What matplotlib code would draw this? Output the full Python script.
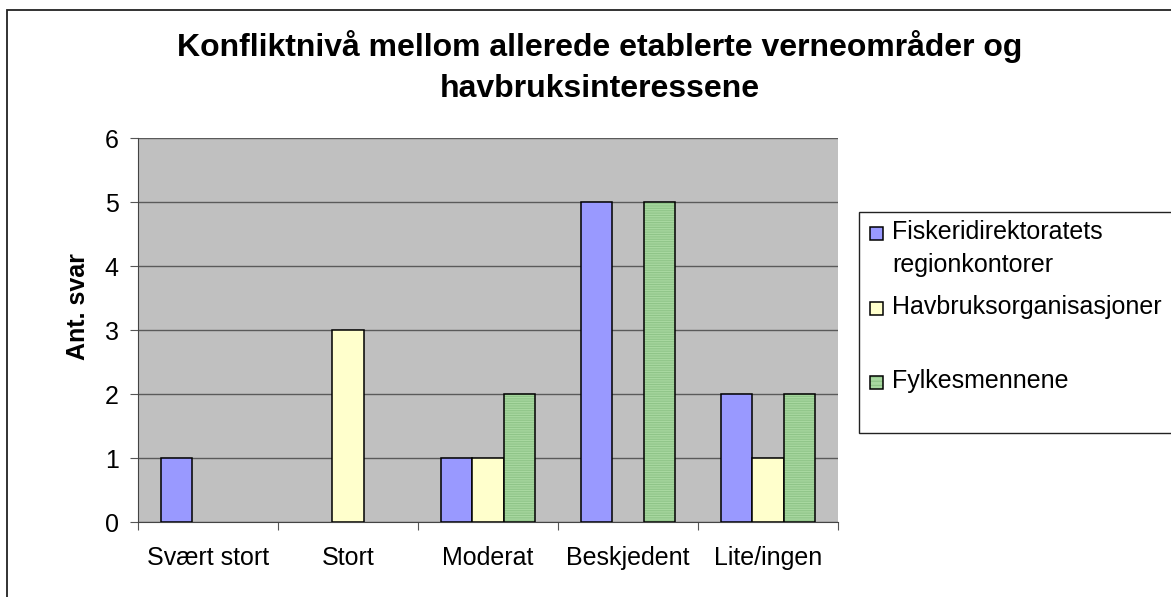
import matplotlib
matplotlib.use("Agg")
import matplotlib.pyplot as plt
import numpy as np
from matplotlib.patches import Rectangle

plt.rcParams['font.family'] = ['Liberation Sans', 'DejaVu Sans']
plt.rcParams['hatch.linewidth'] = 0.8

categories = ["Svært stort", "Stort", "Moderat", "Beskjedent", "Lite/ingen"]
series_names = ["Fiskeridirektoratets\nregionkontorer", "Havbruksorganisasjoner", "Fylkesmennene"]
fisk = [1, 0, 1, 5, 2]
havbruk = [0, 3, 1, 0, 1]
fylke = [0, 0, 2, 5, 2]
yticks = [0, 1, 2, 3, 4, 5, 6]
title = "Konfliktnivå mellom allerede etablerte verneområder og\nhavbruksinteressene"
ylabel = "Ant. svar"

colors = ["#9999ff", "#ffffcc", "#a8d8a0"]
hatch_col = "#8fc488"

W, H = 1171, 597
fig = plt.figure(figsize=(W / 100, H / 100), dpi=100)
fig.patch.set_facecolor("white")

def fx(px):
    return px / W

def fy(py):
    return 1 - py / H

# outer chart border (runs off the right and bottom edges)
fig.add_artist(Rectangle((fx(7), -0.2), 1.5, fy(10) + 0.2, transform=fig.transFigure,
                         fill=False, edgecolor="#222222", linewidth=1.3))

ax = fig.add_axes([fx(138), fy(522), 700 / W, 384 / H])
ax.set_facecolor("#c0c0c0")
x = np.arange(len(categories))
bw = 0.222

def hide_zero(bars, vals):
    for b, v in zip(bars, vals):
        if v == 0:
            b.set_visible(False)

hide_zero(ax.bar(x - bw, fisk, bw, color=colors[0], edgecolor="black", linewidth=1.1, zorder=3), fisk)
hide_zero(ax.bar(x, havbruk, bw, color=colors[1], edgecolor="black", linewidth=1.1, zorder=3), havbruk)
hide_zero(ax.bar(x + bw, fylke, bw, color=colors[2], edgecolor=hatch_col, hatch="-------",
                 linewidth=0, zorder=3), fylke)
hide_zero(ax.bar(x + bw, fylke, bw, fill=False, edgecolor="black", linewidth=1.1, zorder=4), fylke)

ax.set_xlim(-0.5, len(categories) - 0.5)
ax.set_ylim(yticks[0], yticks[-1])
ax.set_yticks(yticks)
ax.set_xticks(np.arange(-0.5, len(categories), 1.0))
ax.set_xticklabels([])
ax.set_xticks(x, minor=True)
ax.set_xticklabels(categories, minor=True)
ax.tick_params(axis="x", which="minor", length=0, pad=17, labelsize=18)
ax.tick_params(axis="x", which="major", length=6, direction="out", width=0.8, color="#555555")
ax.tick_params(axis="y", length=6, direction="out", labelsize=18, pad=8, width=0.8, color="#555555")
ax.yaxis.grid(True, color="#5a5a5a", linewidth=1)
ax.set_axisbelow(True)
for s in ["top", "right"]:
    ax.spines[s].set_visible(False)
ax.spines["left"].set_color("#444444")
ax.spines["bottom"].set_color("#444444")
ax.set_ylabel(ylabel, fontsize=18, fontweight="bold")
ax.yaxis.set_label_coords((90 - 138) / 700, (522 - 307) / 384)

fig.text(fx(600), fy(67), title, ha="center", va="center",
         fontsize=23, fontweight="bold", linespacing=1.5)

# legend box (runs off the right edge)
fig.add_artist(Rectangle((fx(859), fy(433)), 0.5, (433 - 212) / H, transform=fig.transFigure,
                         facecolor="white", edgecolor="#222222", linewidth=1.0))
entry_y = [233, 308, 382]
for col, name, ey in zip(colors, series_names, entry_y):
    if col == colors[2]:
        fig.add_artist(Rectangle((fx(870), fy(ey + 6.5)), 13 / W, 13 / H, transform=fig.transFigure,
                                 facecolor=col, edgecolor=hatch_col, hatch="----", linewidth=0))
        fig.add_artist(Rectangle((fx(870), fy(ey + 6.5)), 13 / W, 13 / H, transform=fig.transFigure,
                                 fill=False, edgecolor="black", linewidth=1.1))
    else:
        fig.add_artist(Rectangle((fx(870), fy(ey + 6.5)), 13 / W, 13 / H, transform=fig.transFigure,
                                 facecolor=col, edgecolor="black", linewidth=1.1))
    fig.text(fx(892), fy(ey - 13), name, ha="left", va="top",
             fontsize=18, linespacing=1.45)

fig.savefig("out.png", dpi=100)
